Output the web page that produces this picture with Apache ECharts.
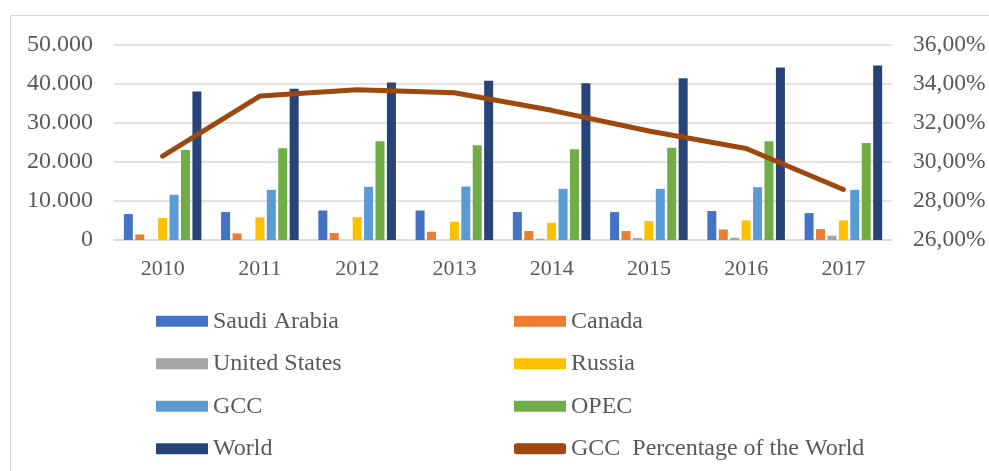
<!DOCTYPE html>
<html>
<head>
<meta charset="utf-8">
<script src="https://cdn.jsdelivr.net/npm/echarts@6/dist/echarts.min.js"></script>
<style>
* { margin: 0; padding: 0; }
#chart { width: 989px; height: 471px; background: #fff; }
</style>
</head>
<body>
<div id="chart"></div>
<script>
var years = ['2010', '2011', '2012', '2013', '2014', '2015', '2016', '2017'];
var saudiArabia = [6650, 7160, 7570, 7570, 7160, 7160, 7420, 6900];
var canada = [1430, 1690, 1790, 2120, 2300, 2300, 2710, 2800];
var unitedStates = [0, 0, 0, 0, 330, 500, 590, 1100];
var russia = [5620, 5780, 5880, 4680, 4420, 4860, 5010, 5010];
var gcc = [11580, 12860, 13630, 13700, 13120, 13120, 13550, 12860];
var opec = [23090, 23520, 25310, 24290, 23270, 23680, 25310, 24880];
var world = [38100, 38770, 40400, 40810, 40220, 41500, 44240, 44750];
var gccShare = [30.30, 33.38, 33.71, 33.55, 32.65, 31.59, 30.69, 28.59];

var textColor = '#595959';
var fontFam = '"Liberation Serif", "Times New Roman", serif';

function bar(name, data, color) {
  return {
    name: name,
    type: 'bar',
    data: data,
    barWidth: 9,
    barGap: '27%',
    itemStyle: { color: color },
    silent: true
  };
}

var legendCommon = {
  orient: 'vertical',
  top: 309,
  padding: 0,
  itemWidth: 52,
  itemHeight: 11,
  itemGap: 18,
  icon: 'rect',
  textStyle: { color: textColor, fontSize: 24, fontFamily: fontFam, lineHeight: 24.5 }
};

var myChart = echarts.init(document.getElementById('chart'));
myChart.setOption({
  animation: false,
  textStyle: { fontFamily: fontFam },
  graphic: [{
    type: 'rect',
    shape: { x: 10.5, y: 15.5, width: 1200, height: 600 },
    style: { fill: 'none', stroke: '#d9d9d9', lineWidth: 1 },
    silent: true
  }],
  grid: { left: 114, right: 97, top: 45, bottom: 231 },
  legend: [
    Object.assign({}, legendCommon, {
      left: 156,
      data: ['Saudi Arabia', 'United States', 'GCC', 'World']
    }),
    Object.assign({}, legendCommon, {
      left: 514,
      data: ['Canada', 'Russia', 'OPEC',
        { name: 'GCC  Percentage of the World', icon: 'roundRect', itemStyle: { color: '#9e480e' } }]
    })
  ],
  xAxis: {
    type: 'category',
    data: years,
    axisTick: { show: false },
    axisLine: { lineStyle: { color: '#d9d9d9', width: 1.5 } },
    axisLabel: { color: textColor, fontSize: 22, margin: 18 }
  },
  yAxis: [{
    type: 'value',
    min: 0,
    max: 50000,
    interval: 10000,
    axisLine: { show: false },
    axisTick: { show: false },
    splitLine: { lineStyle: { color: '#d9d9d9', width: 1.5 } },
    axisLabel: {
      color: textColor, fontSize: 24, margin: 21,
      formatter: function (v) {
        return v === 0 ? '0' : (v / 1000).toFixed(3);
      }
    }
  }, {
    type: 'value',
    min: 26,
    max: 36,
    interval: 2,
    axisLine: { show: false },
    axisTick: { show: false },
    splitLine: { show: false },
    axisLabel: {
      color: textColor, fontSize: 23.5, margin: 21,
      formatter: function (v) {
        return v.toFixed(2).replace('.', ',') + '%';
      }
    }
  }],
  series: [
    bar('Saudi Arabia', saudiArabia, '#4472c4'),
    bar('Canada', canada, '#ed7d31'),
    bar('United States', unitedStates, '#a5a5a5'),
    bar('Russia', russia, '#ffc000'),
    bar('GCC', gcc, '#5b9bd5'),
    bar('OPEC', opec, '#70ad47'),
    bar('World', world, '#264478'),
    {
      name: 'GCC  Percentage of the World',
      type: 'line',
      yAxisIndex: 1,
      data: gccShare,
      symbol: 'none',
      lineStyle: { color: '#9e480e', width: 5, cap: 'round', join: 'round' },
      itemStyle: { color: '#9e480e' },
      z: 5,
      silent: true
    }
  ]
});
</script>
</body>
</html>
